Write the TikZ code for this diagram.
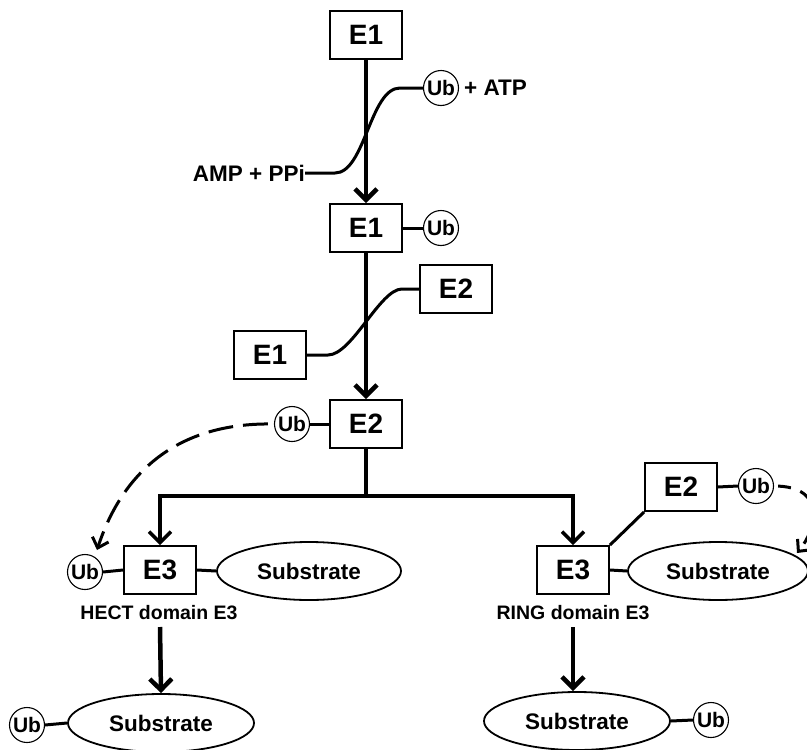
\documentclass[tikz,border=0pt]{standalone}
\usepackage{fontspec}
\setmainfont{Liberation Sans}
\usetikzlibrary{shapes.geometric,arrows.meta}
\tikzset{
  ebox/.style={draw, line width=1.8pt, minimum width=72pt, minimum height=48pt, inner sep=0pt, font=\fontsize{28}{30}\selectfont\bfseries},
  ub/.style={circle, draw, line width=1.1pt, minimum size=35pt, inner sep=0pt, font=\fontsize{21}{22}\selectfont\bfseries},
  sub/.style={ellipse, draw, line width=1.8pt, minimum width=184pt, minimum height=58pt, inner sep=0pt, font=\fontsize{22.5}{24}\selectfont\bfseries},
  txt/.style={inner sep=0pt, font=\fontsize{22.5}{24}\selectfont\bfseries},
  lbl/.style={inner sep=0pt, font=\fontsize{19.5}{21}\selectfont\bfseries},
  mainarrow/.style={line width=4.5pt, -{Straight Barb[length=11pt,width=22pt]}},
  brancharrow/.style={line width=3.5pt, -{Straight Barb[length=11pt,width=22pt]}},
  branchline/.style={line width=3.5pt},
  link/.style={line width=3pt},
  dasharrow/.style={line width=3pt, -{Straight Barb[length=9pt,width=17pt]}},
}
\begin{document}
\begin{tikzpicture}[x=1pt,y=-1pt]
\useasboundingbox (0,0) rectangle (807,750);
% nodes
\node[ebox] (e1a) at (366,35) {E1};
\node[ebox] (e1b) at (366,228) {E1};
\node[ub] (ub1) at (441,228) {Ub};
\node[ub] (ubA) at (441,88) {Ub};
\node[txt, anchor=west] (atp) at (464,88) {+ ATP};
\node[txt, anchor=east] (amp) at (305,173) {AMP + PPi};
\node[ebox] (e2s) at (456,289) {E2};
\node[ebox] (e1s) at (270,355) {E1};
\node[ebox] (e2) at (366,424) {E2};
\node[ub] (ub2) at (292,424) {Ub};
\coordinate (split) at (366,496);
\node[ebox] (e3l) at (160,570) {E3};
\node[ub] (ub3) at (85,572) {Ub};
\node[sub] (subl) at (309,571) {Substrate};
\node[lbl] (hect) at (159,613) {HECT domain E3};
\node[ebox] (e3r) at (573,570) {E3};
\node[ebox] (e2r) at (681,487) {E2};
\node[ub] (ub4) at (756,486) {Ub};
\node[sub, minimum width=180pt] (subr) at (718,571) {Substrate};
\node[lbl] (ring) at (573,613) {RING domain E3};
\node[sub, minimum width=186pt] (subbl) at (161,723) {Substrate};
\node[ub] (ub5) at (27,725) {Ub};
\node[sub, minimum width=186pt] (subbr) at (577,721) {Substrate};
\node[ub] (ub6) at (711,720) {Ub};
\coordinate (tipl) at (97,550);
\coordinate (tipr) at (797,553);
\coordinate (al1) at (160,627);
\coordinate (ar1) at (573,627);
% main arrows
\draw[mainarrow] (e1a.south) -- (e1b.north);
\draw[mainarrow] (e1b.south) -- (e2.north);
% side reactions
\draw[link] (ubA.west) -- (400,88) .. controls (370,88) and (365,173) .. (335,173) -- (amp.east);
\draw[link] (e1s.east) -- (328,355) .. controls (352,355) and (380,289) .. (402,289) -- (e2s.west);
% attachments
\draw[link] (e1b.east) -- (ub1.west);
\draw[link] (e2.west) -- (ub2.east);
\draw[link] (e3l.west) -- (ub3.east);
\draw[link] (e3l.east) -- (subl.west);
\draw[link] (e3r.east) -- (subr.west);
\draw[link] (e2r.south west) -- (e3r.north east);
\draw[link] (e2r.east) -- (ub4.west);
\draw[link] (subbl.west) -- (ub5.east);
\draw[link] (subbr.east) -- (ub6.west);
% branch
\draw[branchline] (e2.south) -- (split);
\draw[brancharrow] (split) -| (e3l.north);
\draw[brancharrow] (split) -| (e3r.north);
% bottom arrows
\draw[mainarrow] (al1) -- (subbl.north);
\draw[mainarrow] (ar1) -- (subbr.north -| ar1);
% dashed transfers
\draw[dasharrow, dash pattern=on 25pt off 10pt, dash phase=-6pt] (ub2.west) .. controls (170,422) and (120,480) .. (tipl);
\draw[dasharrow, dash pattern=on 13pt off 10pt, dash phase=-4pt] (ub4.east) .. controls (828,486) and (816,530) .. (tipr);
\end{tikzpicture}
\end{document}
